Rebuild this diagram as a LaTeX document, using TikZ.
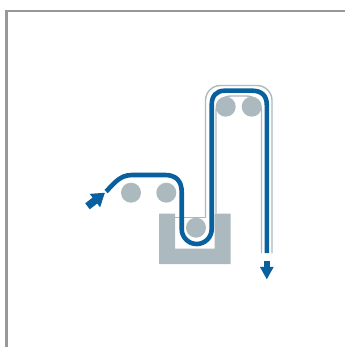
\documentclass[tikz,border=0pt]{standalone}
\usetikzlibrary{positioning,arrows.meta}
\definecolor{FrameGray}{RGB}{150,152,154}
\definecolor{RollGray}{RGB}{172,185,190}
\definecolor{WebBlue}{RGB}{8,96,158}
\begin{document}
\begin{tikzpicture}[x=1pt,y=-1pt,
    roller/.style={circle, fill=RollGray, inner sep=0pt, minimum size=20pt},
    web/.style={draw=WebBlue, line width=4.6pt},
    guide/.style={draw=RollGray, line width=1.4pt, rounded corners=15pt},
    feed/.style={draw=WebBlue, line width=5.7pt, -{Triangle[length=12.6pt, width=12.8pt]}},
    feedin/.style={draw=WebBlue, line width=7.5pt, -{Triangle[length=12.8pt, width=16pt]}},
]
\useasboundingbox (0,0) rectangle (345,347);
% frame
\draw[FrameGray, line width=2.8pt] (6.2,347) -- (6.2,11) -- (345,11);
% tank
\fill[RollGray] (159,213.5) -- (175,213.5) -- (175,248.5) -- (214.5,248.5) -- (214.5,213.5)
    -- (230.5,213.5) -- (230.5,264) -- (159,264) -- cycle;
% guide lines
\draw[guide, rounded corners=0pt] (175,217.5) -- (205.5,217.5);
\draw[guide] (205.5,217.5) -- (205.5,85.5) -- (272,85.5) -- (272,253);
\draw[guide] (216,213.5) -- (216,96) -- (261.5,96) -- (261.5,253);
% rollers
\node[roller] (rollA) at (131,192.7) {};
\node[roller] (rollB) at (166.3,192.7) {};
\node[roller] (rollC) at (196,227.7) {};
\node[roller] (rollD) at (225.7,106.7) {};
\node[roller] (rollE) at (251.7,106.7) {};
% web
\coordinate (webin) at (106,191.5);
\coordinate (webout) at (266.8,253);
\draw[web] (webin) .. controls (113,185) and (119,175) .. (132,175)
    -- (165,175) .. controls (176,175) and (181.7,181) .. (181.7,192)
    -- (181.7,229) arc[start angle=180, end angle=0, radius=15]
    -- (211.7,105) .. controls (211.7,96) and (216,90.7) .. (225,90.7)
    -- (252,90.7) .. controls (262,90.7) and (266.8,96) .. (266.8,105) -- (webout);
% arrows
\coordinate (inA) at (87.5,206.3);
\coordinate (inB) at (105,192.7);
\coordinate (outA) at (266.8,260.5);
\coordinate (outB) at (266.8,279.5);
\draw[feedin] (inA) -- (inB);
\draw[feed] (outA) -- (outB);
\end{tikzpicture}
\end{document}
